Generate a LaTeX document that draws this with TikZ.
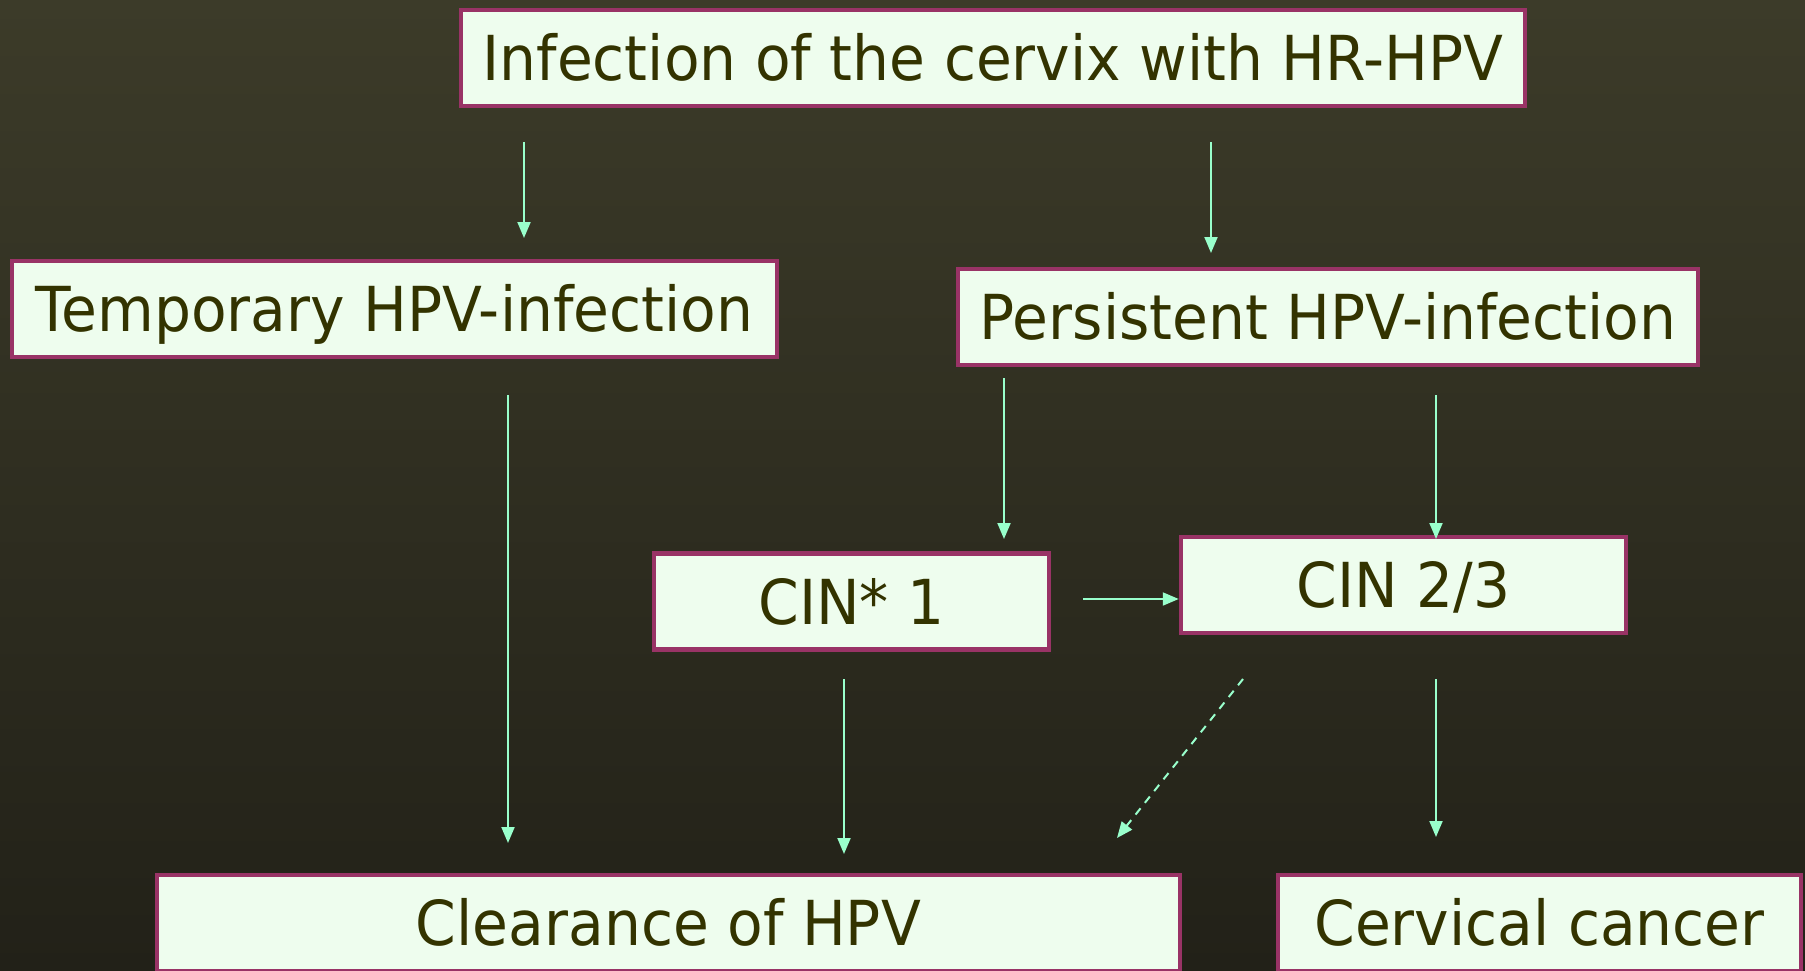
\documentclass[tikz,border=0pt]{standalone}
\usepackage{fontspec}
\setmainfont[FakeStretch=0.94]{DejaVu Sans}
\usetikzlibrary{arrows.meta}
\definecolor{bgtop}{RGB}{60,59,41}
\definecolor{bgbot}{RGB}{34,33,24}
\definecolor{boxfill}{RGB}{238,253,238}
\definecolor{boxline}{RGB}{153,51,102}
\definecolor{txt}{RGB}{51,51,0}
\definecolor{arr}{RGB}{153,255,204}
\begin{document}
\begin{tikzpicture}[x=1pt,y=-1pt,
  box/.style={draw=boxline, line width=4.5pt, fill=boxfill, text=txt, inner sep=0pt,
    minimum height=96pt, font=\fontsize{62}{70}\selectfont, text height=45pt, text depth=0pt},
  arrowline/.style={draw=arr, line width=2pt, -{Triangle[length=16pt,width=13pt]}},
  dashline/.style={arrowline, dash pattern=on 8pt off 7pt}]
\useasboundingbox (0,0) rectangle (1805,971);
\shade[top color=bgtop,bottom color=bgbot] (0,0) rectangle (1805,971);
\clip (0,0) rectangle (1805,971);
\node[box, minimum width=1064pt] (inf) at (993,58) {Infection of the cervix with HR-HPV};
\node[box, minimum width=765pt] (temp) at (394.5,309) {Temporary HPV-infection};
\node[box, minimum width=740pt] (pers) at (1328,317) {Persistent HPV-infection};
\node[box, minimum width=395pt] (cin1) at (851.5,601.5) {CIN* 1};
\node[box, minimum width=445pt] (cin23) at (1403.5,585) {CIN 2/3};
\node[box, minimum width=1023pt] (clear) at (668.5,923) {Clearance of HPV};
\node[box, minimum width=523pt] (cancer) at (1539.5,923) {Cervical cancer};
% arrow end points
\coordinate (a1s) at (524,142); \coordinate (a1e) at (524,238);
\coordinate (a2s) at (1211,142); \coordinate (a2e) at (1211,253);
\coordinate (a3s) at (508,395); \coordinate (a3e) at (508,843);
\coordinate (a4s) at (1004,378); \coordinate (a4e) at (1004,539);
\coordinate (a5s) at (1436,395); \coordinate (a5e) at (1436,539);
\coordinate (a6s) at (1083,599);
\coordinate (a7s) at (844,679); \coordinate (a7e) at (844,854);
\coordinate (a8s) at (1243,679); \coordinate (a8e) at (1117,838);
\coordinate (a9s) at (1436,679); \coordinate (a9e) at (1436,837);
\draw[arrowline] (a1s) -- (a1e);
\draw[arrowline] (a2s) -- (a2e);
\draw[arrowline] (a3s) -- (a3e);
\draw[arrowline] (a4s) -- (a4e);
\draw[arrowline] (a5s) -- (a5e);
\draw[arrowline] (a6s) -- (cin23.west |- a6s);
\draw[arrowline] (a7s) -- (a7e);
\draw[dashline] (a8s) -- (a8e);
\draw[arrowline] (a9s) -- (a9e);
\end{tikzpicture}
\end{document}
